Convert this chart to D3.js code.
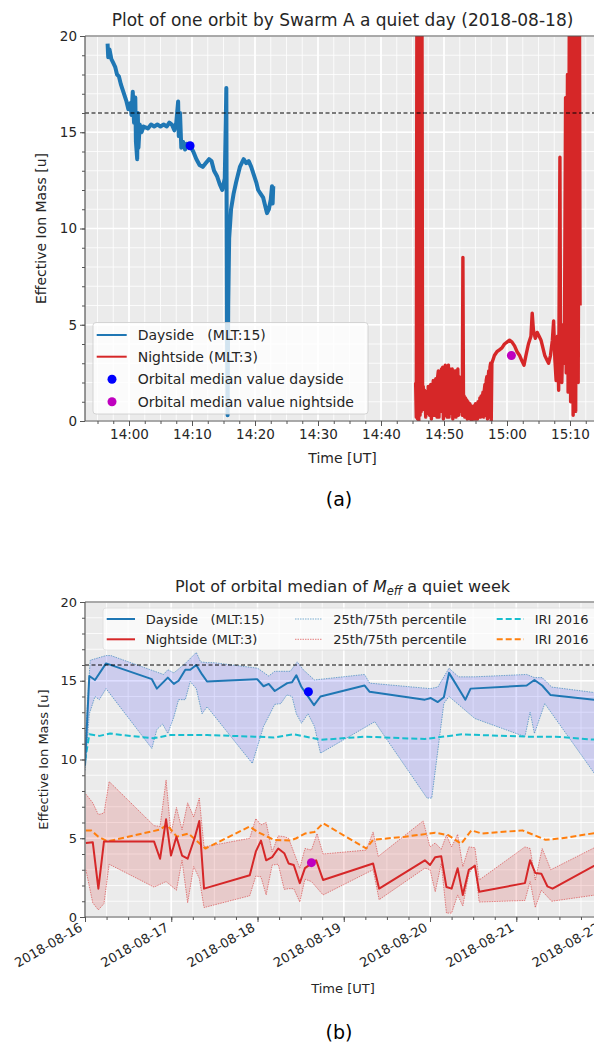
<!DOCTYPE html>
<html><head><meta charset="utf-8">
<script src="https://cdn.jsdelivr.net/npm/d3@7"></script>
<style>
body{margin:0;background:#fff;}
svg{display:block;font-family:"DejaVu Sans",sans-serif;}
text{white-space:pre;}
</style></head><body>
<svg id="c" width="594" height="1046"></svg>
<script>
// ================= DATA =================
// (a) one orbit, 2018-08-18 ; time in minutes after 14:00 UT
const orbitDay = "2018-08-18";
const daysideMin = [-3.4,-3.3,-3.1,-2.8,-2.5,-2.2,-1.9,-1.6,-1.3,-1.0,-0.7,-0.4,-0.1,0.2,0.4,0.6,0.8,1.0,1.1,1.3,1.4,1.5,1.7,2.0,2.3,3.0,3.5,4.0,4.5,5.0,5.5,6.0,6.4,6.8,7.2,7.5,7.8,7.9,8.1,8.3,8.6,8.9,9.2,9.7,10.2,10.7,11.2,11.7,12.2,12.7,13.1,13.5,14.0,14.4,14.8,15.2,15.45,15.55,15.65,15.75,15.9,16.2,16.6,17.0,17.6,18.2,18.6,19.0,19.4,19.8,20.2,20.5,20.9,21.3,21.6,21.9,22.2,22.5,22.7,22.8,22.9];
const daysideVal = [19.6,18.9,19.3,18.8,18.6,18.4,18.0,17.9,17.5,17.2,16.9,16.6,16.2,16.5,15.9,17.1,15.5,16.8,14.5,13.6,16.0,14.2,15.4,15.0,15.3,15.2,15.4,15.3,15.4,15.3,15.4,15.3,15.5,15.4,15.1,15.5,16.6,14.8,16.0,14.2,14.5,14.1,14.4,14.3,14.0,13.6,13.3,13.2,13.4,13.6,13.5,13.0,12.7,12.3,12.0,12.6,17.3,5.0,0.3,6.0,9.5,11.0,11.8,12.4,13.2,13.6,13.4,13.5,13.2,12.8,12.4,12.0,11.8,11.6,11.2,10.8,11.0,11.5,12.2,11.3,12.2];
const nightsideMin = [45.5,45.6,45.7,45.8,45.9,46.0,46.1,46.2,46.3,46.4,46.5,46.6,46.7,46.8,46.9,47.0,47.1,47.2,47.3,47.4,47.5,47.6,47.7,47.8,47.9,48.0,48.1,48.2,48.3,48.4,48.5,48.6,48.7,48.8,48.9,49.0,49.1,49.2,49.3,49.4,49.5,49.6,49.7,49.8,49.9,50.0,50.1,50.2,50.3,50.4,50.5,50.6,50.7,50.8,50.9,51.0,51.1,51.2,51.3,51.4,51.5,51.6,51.7,51.8,51.9,52.0,52.1,52.2,52.3,52.4,52.5,52.6,52.7,52.8,52.9,53.0,53.1,53.2,53.3,53.4,53.5,53.6,53.7,53.8,53.9,54.0,54.1,54.2,54.3,54.4,54.5,54.6,54.7,54.8,54.9,55.0,55.1,55.2,55.3,55.4,55.5,55.6,55.7,55.8,55.9,56.0,56.1,56.2,56.3,56.4,56.5,56.6,56.7,56.8,56.9,57.0,57.1,57.2,57.3,57.4,57.5,57.6,57.7,58.0,58.4,58.8,59.2,59.6,60.0,60.4,60.8,61.2,61.6,62.0,62.4,62.7,63.0,63.4,63.8,64.0,64.2,64.5,64.8,65.1,65.4,65.7,66.0,66.3,66.6,66.9,67.2,67.4,67.6,67.8,68.0,68.2,68.4,68.5,68.7,68.9,69.1,69.3,69.4,69.6,69.7,69.9,70.1,70.3,70.5,70.7,70.9,71.1,71.3,71.5,71.6];
const nightsideVal = [2.0,0.2,22,0.1,22,0.0,22,0.3,22,0.5,22,1.0,1.8,0.6,1.6,1.2,0.2,1.5,1.4,0.4,1.8,1.7,0.3,1.3,1.9,0.1,1.5,1.6,2.1,0.3,2.0,0.3,2.2,1.8,0.2,2.3,2.6,0.2,2.4,2.5,0.5,2.7,1.0,2.8,0.1,2.6,0.3,2.9,1.5,2.8,0.2,2.8,2.9,0.2,2.6,2.7,0.4,2.4,2.7,0.1,2.6,0.4,2.5,2.6,0.2,2.4,1.0,2.7,0.3,2.3,2.2,0.5,2.0,1.5,0.3,8.5,0.5,1.3,0.2,1.2,0.6,1.1,0.1,1.0,0.4,0.2,0.9,0.1,0.8,0.0,0.7,0.7,0.1,0.8,0.1,0.9,0.2,0.9,0.1,1.0,1.0,0.2,1.2,0.2,1.3,0.3,1.3,1.5,0.2,1.6,1.9,0.3,2.1,2.3,0.1,2.2,2.6,0.2,2.8,3.0,0.0,3.0,3.1,3.4,3.6,3.7,3.8,4.0,4.1,4.2,4.1,3.9,3.6,3.4,3.1,2.9,3.4,4.0,4.4,5.6,4.7,4.3,4.6,4.4,4.2,3.8,3.4,3.2,3.0,3.4,4.2,5.2,3.2,2.1,4.4,1.6,13.7,3.5,2.0,5.0,3.0,16.8,2.5,18.0,1.5,22,1.0,22,0.3,22,0.5,22,2.0,22,6.0];
const orbitMedianDay = [9.7, 14.3];     // [minutes after 14:00, value]
const orbitMedianNight = [60.7, 3.4];
const oxygenLine = 16;
const massTicks = [0, 5, 10, 15, 20];

// (b) quiet week, days after 2018-08-16 00:00 UT
const weekStart = "2018-08-16";
const dayMedian = [[0,9.6],[0.05,15.3],[0.116,15.05],[0.244,16.1],[0.775,15.1],[0.833,14.5],[0.96,15.2],[1.03,14.8],[1.085,15.0],[1.163,15.7],[1.22,15.7],[1.29,16.0],[1.357,15.4],[1.415,14.95],[1.996,15.1],[2.07,14.65],[2.13,14.8],[2.2,14.35],[2.345,14.85],[2.4,14.9],[2.45,15.35],[2.51,14.6],[2.655,13.45],[2.73,14.0],[3.24,14.7],[3.3,14.3],[3.94,13.8],[4.01,13.9],[4.09,13.65],[4.16,13.95],[4.22,15.5],[4.41,13.8],[4.47,14.5],[5.12,14.7],[5.21,15.05],[5.3,14.7],[5.395,14.1],[6.05,13.7]];
const dayP75 = [[0,11.0],[0.06,16.3],[0.244,16.6],[0.3,16.6],[0.91,15.4],[0.96,15.7],[1.03,15.5],[1.163,16.1],[1.29,16.8],[1.34,16.2],[1.415,16.15],[1.49,16.15],[2.0,15.8],[2.13,15.3],[2.2,15.6],[2.38,15.6],[2.46,16.2],[2.53,15.7],[2.66,15.05],[3.24,15.4],[3.3,14.85],[4.0,14.5],[4.09,14.6],[4.22,15.8],[4.33,15.25],[4.52,15.25],[5.12,15.4],[5.21,15.2],[5.3,15.2],[5.41,14.6],[6.05,14.15]];
const dayP25 = [[0,9.3],[0.05,12.9],[0.116,14.0],[0.166,13.8],[0.244,14.5],[0.775,10.7],[0.833,11.9],[0.9,12.25],[0.96,11.65],[1.03,12.7],[1.085,13.8],[1.163,13.8],[1.22,14.95],[1.29,14.5],[1.357,12.9],[1.415,13.35],[1.94,9.75],[2.07,12.1],[2.2,13.5],[2.27,13.55],[2.34,14.1],[2.4,14.0],[2.45,12.9],[2.51,12.3],[2.585,12.9],[2.66,12.1],[2.73,10.4],[3.36,12.4],[3.42,11.9],[3.965,7.55],[4.02,7.55],[4.16,13.55],[4.22,14.0],[4.52,12.6],[5.1,11.45],[5.16,13.0],[5.21,11.65],[5.33,13.55],[6.05,8.0]];
const dayIRI = [[0,9.9],[0.05,11.6],[0.17,11.5],[0.29,11.65],[0.44,11.55],[0.79,11.35],[0.99,11.55],[1.415,11.55],[1.97,11.45],[2.19,11.4],[2.42,11.6],[2.74,11.25],[3.24,11.45],[3.94,11.3],[4.37,11.6],[4.6,11.55],[5.14,11.45],[5.45,11.45],[6.05,11.2]];
const nightMedian = [[0.01,4.7],[0.09,4.75],[0.155,1.8],[0.22,4.8],[0.8,4.8],[0.87,3.7],[0.94,6.2],[0.997,3.9],[1.06,5.1],[1.125,3.9],[1.19,3.7],[1.27,5.0],[1.325,6.1],[1.38,1.8],[1.91,2.65],[1.98,4.15],[2.04,4.85],[2.1,3.6],[2.17,3.8],[2.24,4.35],[2.31,4.05],[2.36,3.4],[2.42,3.3],[2.49,2.15],[2.55,3.1],[2.68,3.6],[2.76,2.35],[3.34,3.4],[3.41,1.8],[3.94,3.6],[4.0,3.3],[4.06,3.8],[4.13,3.85],[4.19,1.9],[4.25,1.8],[4.32,3.1],[4.38,1.4],[4.45,3.0],[4.52,3.25],[4.57,1.6],[5.1,2.15],[5.16,3.6],[5.22,2.8],[5.29,2.75],[5.36,1.95],[5.42,1.8],[6.05,3.7]];
const nightP75 = [[0.01,7.8],[0.09,7.25],[0.155,6.5],[0.22,6.6],[0.28,8.6],[0.8,5.8],[0.87,5.75],[0.94,8.7],[0.997,5.3],[1.06,6.95],[1.125,5.55],[1.19,7.25],[1.26,6.35],[1.325,7.55],[1.38,4.45],[1.91,5.0],[1.98,6.25],[2.04,5.85],[2.1,6.0],[2.17,4.15],[2.24,5.15],[2.31,5.1],[2.36,5.0],[2.49,3.1],[2.55,4.35],[2.625,4.25],[2.69,5.3],[2.76,4.0],[3.26,4.25],[3.34,5.4],[3.4,3.85],[3.92,6.1],[4.0,4.45],[4.06,4.7],[4.13,4.3],[4.19,5.2],[4.25,4.45],[4.32,5.25],[4.38,3.2],[4.45,4.45],[4.52,4.4],[4.57,2.35],[5.1,4.45],[5.16,4.35],[5.22,2.35],[5.3,4.35],[5.4,3.0],[6.05,4.8]];
const nightP25 = [[0.01,3.0],[0.09,0.9],[0.155,0.45],[0.22,0.85],[0.28,3.35],[0.8,1.9],[0.94,2.25],[1.06,1.7],[1.125,3.6],[1.19,0.9],[1.26,3.2],[1.325,2.45],[1.38,0.6],[1.91,1.35],[1.98,2.6],[2.04,2.55],[2.1,1.4],[2.17,3.3],[2.24,3.35],[2.31,1.75],[2.36,1.8],[2.42,1.8],[2.49,0.95],[2.55,2.4],[2.625,2.25],[2.76,1.4],[3.34,3.0],[3.41,1.1],[3.94,3.1],[4.0,3.0],[4.06,1.6],[4.13,3.4],[4.19,0.25],[4.25,0.25],[4.32,1.4],[4.38,0.7],[4.45,2.75],[4.52,3.35],[4.57,0.95],[5.1,1.05],[5.16,2.25],[5.22,0.6],[5.29,1.7],[5.41,1.0],[6.05,1.5]];
const nightIRI = [[0.01,5.5],[0.07,5.5],[0.155,5.1],[0.26,4.8],[0.87,5.55],[0.95,5.85],[1.065,5.1],[1.2,5.3],[1.395,4.35],[1.91,5.75],[2.0,5.4],[2.19,4.9],[2.38,4.85],[2.45,5.0],[2.55,5.3],[2.66,5.4],[2.76,5.95],[3.26,4.35],[3.34,4.9],[3.71,5.1],[4.06,5.35],[4.21,5.2],[4.36,4.65],[4.48,5.5],[4.6,5.3],[5.07,5.5],[5.34,4.9],[5.53,5.0],[6.05,5.45]];
const weekMedianDay = [2.59, 14.3];
const weekMedianNight = [2.625, 3.45];

const legendA = ["Dayside   (MLT:15)", "Nightside (MLT:3)", "Orbital median value dayside", "Orbital median value nightside"];
const legendB = [["Dayside   (MLT:15)","25th/75th percentile","IRI 2016"],["Nightside (MLT:3)","25th/75th percentile","IRI 2016"]];

// ================= STYLE =================
const C = {blue:"#1f77b4", red:"#d62728", cyan:"#17becf", orange:"#ff7f0e", dotB:"#0000ff", dotM:"#bf00bf",
           bg:"#ebebeb", spine:"#555", tick:"#555", text:"#262626"};
const svg = d3.select("#c");

function frame(g, x0, x1, y0, y1, xs, ys, xMajor, xMinor, yMajor, yMinor){
  g.append("rect").attr("x",x0).attr("y",y0).attr("width",x1-x0).attr("height",y1-y0).attr("fill",C.bg);
  const gr = g.append("g");
  xMinor.forEach(v=>gr.append("line").attr("x1",xs(v)).attr("x2",xs(v)).attr("y1",y0).attr("y2",y1).attr("stroke","#fff").attr("stroke-width",0.8));
  yMinor.forEach(v=>gr.append("line").attr("y1",ys(v)).attr("y2",ys(v)).attr("x1",x0).attr("x2",x1).attr("stroke","#fff").attr("stroke-width",0.8));
  xMajor.forEach(v=>gr.append("line").attr("x1",xs(v)).attr("x2",xs(v)).attr("y1",y0).attr("y2",y1).attr("stroke","#fff").attr("stroke-width",1.6));
  yMajor.forEach(v=>gr.append("line").attr("y1",ys(v)).attr("y2",ys(v)).attr("x1",x0).attr("x2",x1).attr("stroke","#fff").attr("stroke-width",1.6));
}
function spines(g, x0, x1, y0, y1){
  g.append("line").attr("x1",x0).attr("x2",x1).attr("y1",y0).attr("y2",y0).attr("stroke",C.spine).attr("stroke-width",1);
  g.append("line").attr("x1",x0).attr("x2",x1).attr("y1",y1).attr("y2",y1).attr("stroke",C.spine).attr("stroke-width",1.2);
  g.append("line").attr("x1",x0).attr("x2",x0).attr("y1",y0).attr("y2",y1).attr("stroke",C.spine).attr("stroke-width",1.2);
  g.append("line").attr("x1",x1).attr("x2",x1).attr("y1",y0).attr("y2",y1).attr("stroke",C.spine).attr("stroke-width",1);
}
function axes(g, xs, ys, y1, x0, xMajor, xMinor, yMajor, yMinor, xfmt, fs){
  const ax = g.append("g").attr("transform",`translate(0,${y1})`);
  ax.call(d3.axisBottom(xs).tickValues(xMinor).tickSize(3).tickFormat(""));
  ax.call(g2=>g2.select(".domain").remove());
  const axM = g.append("g").attr("transform",`translate(0,${y1})`);
  axM.call(d3.axisBottom(xs).tickValues(xMajor).tickSize(5).tickPadding(3).tickFormat(xfmt));
  axM.call(g2=>g2.select(".domain").remove());
  const ay = g.append("g").attr("transform",`translate(${x0},0)`);
  ay.call(d3.axisLeft(ys).tickValues(yMinor).tickSize(3).tickFormat(""));
  ay.call(g2=>g2.select(".domain").remove());
  const ayM = g.append("g").attr("transform",`translate(${x0},0)`);
  ayM.call(d3.axisLeft(ys).tickValues(yMajor).tickSize(5).tickPadding(3));
  ayM.call(g2=>g2.select(".domain").remove());
  [ax,axM,ay,ayM].forEach(a=>{a.selectAll("line").attr("stroke",C.tick);
    a.selectAll("text").attr("font-size",fs).attr("fill",C.text).attr("font-family","DejaVu Sans");});
  return axM;
}

// ================= (a) =================
{
  const X0=85, X1=600, Y0=36, Y1=421;
  const base = new Date(orbitDay+"T14:00:00Z").getTime();
  const T = m => new Date(base + m*60000);
  const x = d3.scaleUtc().domain([T(0),T(70)]).range([129,570]);
  const y = d3.scaleLinear().domain([0,20]).range([Y1,Y0]);
  const tA = x.invert(X0), tB = x.invert(X1);
  const xMajor = d3.utcMinute.every(10).range(tA,tB);
  const step = 150000, s0 = Math.ceil(tA.getTime()/step)*step;
  const xMinor = d3.range(s0, tB.getTime(), step).map(v=>new Date(v));
  const yMinor = d3.range(0,21,1);
  const g = svg.append("g");
  frame(g,X0,X1,Y0,Y1,x,y,xMajor,xMinor,massTicks,yMinor);
  svg.append("clipPath").attr("id","clipA").append("rect").attr("x",X0).attr("y",Y0).attr("width",X1-X0).attr("height",Y1-Y0);
  const pg = g.append("g").attr("clip-path","url(#clipA)");
  const line = d3.line().x(d=>x(T(d[0]))).y(d=>y(d[1]));
  pg.append("path").attr("d",line(daysideMin.map((m,i)=>[m,daysideVal[i]]))).attr("fill","none").attr("stroke",C.blue).attr("stroke-width",4).attr("stroke-linejoin","round");
  pg.append("path").attr("d",line(nightsideMin.map((m,i)=>[m,nightsideVal[i]]))).attr("fill","none").attr("stroke",C.red).attr("stroke-width",3.4).attr("stroke-linejoin","round");
  pg.append("line").attr("x1",X0).attr("x2",X1).attr("y1",y(oxygenLine)).attr("y2",y(oxygenLine)).attr("stroke","#000").attr("stroke-width",1.1).attr("stroke-dasharray","4,2.5");
  pg.append("circle").attr("cx",x(T(orbitMedianDay[0]))).attr("cy",y(orbitMedianDay[1])).attr("r",4.5).attr("fill",C.dotB);
  pg.append("circle").attr("cx",x(T(orbitMedianNight[0]))).attr("cy",y(orbitMedianNight[1])).attr("r",4.5).attr("fill",C.dotM);
  spines(g,X0,X1,Y0,Y1);
  axes(g,x,y,Y1,X0,xMajor,xMinor,massTicks,yMinor,d3.utcFormat("%H:%M"),13.5);
  // legend
  const L = g.append("g");
  L.append("rect").attr("x",93).attr("y",322.5).attr("width",275).attr("height",91.5).attr("rx",3).attr("fill","#fff").attr("fill-opacity",0.8).attr("stroke","#ccc").attr("stroke-width",0.8);
  const rows=[335,356.7,379.3,401.7];
  L.append("line").attr("x1",96.7).attr("x2",126.7).attr("y1",rows[0]).attr("y2",rows[0]).attr("stroke",C.blue).attr("stroke-width",2);
  L.append("line").attr("x1",96.7).attr("x2",126.7).attr("y1",rows[1]).attr("y2",rows[1]).attr("stroke",C.red).attr("stroke-width",2);
  L.append("circle").attr("cx",112).attr("cy",rows[2]).attr("r",4.5).attr("fill",C.dotB);
  L.append("circle").attr("cx",112).attr("cy",rows[3]).attr("r",4.5).attr("fill",C.dotM);
  legendA.forEach((t,i)=>L.append("text").attr("x",137.7).attr("y",rows[i]).attr("dy","0.35em").attr("font-size",14).attr("fill",C.text).text(t));
  // labels
  svg.append("text").attr("x",342.5).attr("y",26).attr("text-anchor","middle").attr("font-size",17).attr("fill",C.text).text("Plot of one orbit by Swarm A a quiet day ("+orbitDay+")");
  svg.append("text").attr("x",342.5).attr("y",463).attr("text-anchor","middle").attr("font-size",14).attr("fill",C.text).text("Time [UT]");
  svg.append("text").attr("transform",`translate(46,${(Y0+Y1)/2}) rotate(-90)`).attr("text-anchor","middle").attr("font-size",14).attr("fill",C.text).text("Effective Ion Mass [u]");
  svg.append("text").attr("x",339).attr("y",506).attr("text-anchor","middle").attr("font-size",19).attr("fill","#000").text("(a)");
}

// ================= (b) =================
{
  const X0=85, X1=607, Y0=602, Y1=917;
  const base = new Date(weekStart+"T00:00:00Z").getTime();
  const D = d => new Date(base + d*86400000);
  const x = d3.scaleUtc().domain([D(0),D(5)]).range([85,516.3]);
  const y = d3.scaleLinear().domain([0,20]).range([Y1,Y0]);
  const tA = x.invert(X0), tB = x.invert(X1);
  const xMajor = d3.utcDay.range(tA, tB);
  const xMinor = d3.utcHour.every(6).range(tA, tB);
  const yMinor = d3.range(0,21,1);
  const g = svg.append("g");
  frame(g,X0,X1,Y0,Y1,x,y,xMajor,xMinor,massTicks,yMinor);
  svg.append("clipPath").attr("id","clipB").append("rect").attr("x",X0).attr("y",Y0).attr("width",X1-X0).attr("height",Y1-Y0);
  const pg = g.append("g").attr("clip-path","url(#clipB)");
  const line = d3.line().x(d=>x(D(d[0]))).y(d=>y(d[1]));
  const band = (up,lo,fill)=>pg.append("path").attr("d",line(up.concat(lo.slice().reverse()))+"Z").attr("fill",fill).attr("stroke","none");
  band(dayP75,dayP25,"rgba(0,0,255,0.13)");
  band(nightP75,nightP25,"rgba(214,39,40,0.17)");
  const draw=(data,col,w,dash,op)=>pg.append("path").attr("d",line(data)).attr("fill","none").attr("stroke",col).attr("stroke-width",w).attr("stroke-dasharray",dash).attr("stroke-opacity",op).attr("stroke-linejoin","round");
  draw(dayP75,C.blue,0.9,"1.5,1",0.65); draw(dayP25,C.blue,0.9,"1.5,1",0.65);
  draw(nightP75,C.red,0.9,"1.5,1",0.6); draw(nightP25,C.red,0.9,"1.5,1",0.6);
  draw(dayIRI,C.cyan,2,"6,3",1);
  draw(nightIRI,C.orange,2,"6,3",1);
  draw(dayMedian,C.blue,2,null,1);
  draw(nightMedian,C.red,2,null,1);
  pg.append("line").attr("x1",X0).attr("x2",X1).attr("y1",y(oxygenLine)).attr("y2",y(oxygenLine)).attr("stroke","#000").attr("stroke-width",1).attr("stroke-dasharray","4,2.5");
  pg.append("circle").attr("cx",x(D(weekMedianDay[0]))).attr("cy",y(weekMedianDay[1])).attr("r",4.5).attr("fill",C.dotB);
  pg.append("circle").attr("cx",x(D(weekMedianNight[0]))).attr("cy",y(weekMedianNight[1])).attr("r",4.5).attr("fill",C.dotM);
  // legend
  const L = pg.append("g");
  L.append("rect").attr("x",103).attr("y",608).attr("width",520).attr("height",42).attr("rx",3).attr("fill","#fff").attr("fill-opacity",0.7).attr("stroke","#ddd").attr("stroke-width",0.8);
  const rows=[619,639.3];
  const handles=[[106.7,135,[C.blue,C.red],2,null,1],[295,322.3,[C.blue,C.red],0.9,"1.5,1",0.65],[496.7,524,[C.cyan,C.orange],2,"6,3",1]];
  const textX=[145.7,333.3,534.7];
  handles.forEach((h,ci)=>rows.forEach((ry,ri)=>{
    L.append("line").attr("x1",h[0]).attr("x2",h[1]).attr("y1",ry).attr("y2",ry).attr("stroke",h[2][ri]).attr("stroke-width",h[3]).attr("stroke-dasharray",h[4]).attr("stroke-opacity",h[5]);
    L.append("text").attr("x",textX[ci]).attr("y",ry).attr("dy","0.35em").attr("font-size",13).attr("fill",C.text).text(legendB[ri][ci]);
  }));
  spines(g,X0,X1,Y0,Y1);
  const axM = axes(g,x,y,Y1,X0,xMajor,xMinor,massTicks,yMinor,d3.utcFormat("%Y-%m-%d"),13);
  axM.selectAll("text").attr("text-anchor","end").attr("dy",null).attr("y",0).attr("transform","translate(-2,13) rotate(-30)");
  // labels
  const tt = svg.append("text").attr("x",342.5).attr("y",592).attr("text-anchor","middle").attr("font-size",16).attr("fill",C.text);
  tt.append("tspan").text("Plot of orbital median of ");
  tt.append("tspan").attr("font-style","italic").text("M");
  tt.append("tspan").attr("font-style","italic").attr("font-size",11.5).attr("dy",3).text("eff");
  tt.append("tspan").attr("dy",-3).text(" a quiet week");
  svg.append("text").attr("x",343).attr("y",993).attr("text-anchor","middle").attr("font-size",13).attr("fill",C.text).text("Time [UT]");
  svg.append("text").attr("transform",`translate(48,${(Y0+Y1)/2}) rotate(-90)`).attr("text-anchor","middle").attr("font-size",13).attr("fill",C.text).text("Effective Ion Mass [u]");
  svg.append("text").attr("x",339).attr("y",1039).attr("text-anchor","middle").attr("font-size",19).attr("fill","#000").text("(b)");
}
</script>
</body></html>
